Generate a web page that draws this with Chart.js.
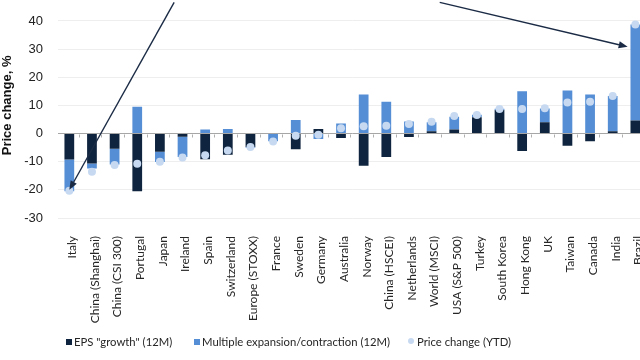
<!DOCTYPE html>
<html>
<head>
<meta charset="utf-8">
<script src="https://cdn.jsdelivr.net/npm/chart.js@4/dist/chart.umd.min.js"></script>
<style>
  html, body { margin: 0; padding: 0; background: #fff; overflow: hidden; width: 640px; height: 360px; }
  #wrap { position: absolute; left: 0; top: -30px; width: 660px; height: 390px; }
  .legend { position: absolute; top: 335px; font: 11.3px Lato, sans-serif; color: #262626; white-space: nowrap; }
  .legend .sw { display: inline-block; width: 6px; height: 6px; margin-right: 2px; vertical-align: 1px; }
  .legend .dot { display: inline-block; width: 6px; height: 6px; border-radius: 50%; margin-right: 3px; vertical-align: 2px; }
</style>
</head>
<body>
<div id="wrap"><canvas id="chart" width="660" height="390"></canvas></div>
<div class="legend" style="left:66px"><span class="sw" style="background:#0F243E"></span>EPS "growth" (12M)</div>
<div class="legend" style="left:194px"><span class="sw" style="background:#558ED5"></span>Multiple expansion/contraction (12M)</div>
<div class="legend" style="left:408px"><span class="dot" style="background:#C6D9F1"></span>Price change (YTD)</div>
<script>
'use strict';

/* ── Data ── */
const categories = ['Italy', 'China (Shanghai)', 'China (CSI 300)', 'Portugal', 'Japan', 'Ireland', 'Spain',
  'Switzerland', 'Europe (STOXX)', 'France', 'Sweden', 'Germany', 'Australia', 'Norway', 'China (HSCEI)',
  'Netherlands', 'World (MSCI)', 'USA (S&P 500)', 'Turkey', 'South Korea', 'Hong Kong', 'UK', 'Taiwan',
  'Canada', 'India', 'Brazil'];
const epsGrowth = [-9.2, -10.6, -5.4, -20.5, -6.5, -1.1, -9.1, -7.5, -4.8, 0, -5.6, 1.6, -1.6, -11.4, -8.3,
  -1.2, 0.8, 1.4, 5.8, 8.4, -6.2, 4.0, -4.3, -2.7, 0.8, 4.6];
const multipleChange = [-11.3, -1.8, -5.6, 9.5, -3.6, -7.2, 1.4, 1.6, -0.2, -2.7, 4.8, -1.9, 3.6, 13.9, 11.3,
  4.3, 3.2, 4.6, 0.9, 0.4, 15.0, 4.9, 15.3, 13.9, 12.5, 34.1];
const priceChange = [-20.3, -13.6, -11.2, -10.7, -10.0, -8.5, -7.7, -6.0, -4.8, -2.8, -0.8, -0.4, 1.9, 2.6, 2.8,
  3.4, 4.2, 6.2, 6.6, 8.7, 8.7, 9.0, 11.0, 11.3, 13.3, 38.7];
const yTicks = [-30, -20, -10, 0, 10, 20, 30, 40, 50];

// arrows pointing at Italy and Brazil: [category index, value]
const arrows = [
  { from: [4.63, 46.6], to: [0, -20] },
  { from: [16.36, 46.6], to: [24.66, 30.8] },
];

const C_EPS = '#0F243E';
const C_MULT = '#558ED5';
const C_PRICE = '#C6D9F1';

/* ── Zero line tick marks ── */
const zeroTicks = {
  id: 'zeroTicks',
  beforeDatasetsDraw(chart) {
    const { ctx, chartArea, scales: { y } } = chart;
    const y0 = Math.round(y.getPixelForValue(0)) + 0.5;
    const step = (chartArea.right - chartArea.left) / categories.length;
    ctx.save();
    ctx.strokeStyle = '#b0b0b0';
    ctx.lineWidth = 1;
    ctx.beginPath();
    for (let i = 1; i < categories.length; i++) {
      const x = Math.round(chartArea.left + i * step - 2) + 0.5;
      ctx.moveTo(x, y0);
      ctx.lineTo(x, y0 + 3);
    }
    ctx.stroke();
    ctx.restore();
  },
};

/* ── Annotation arrows ── */
const arrowLines = {
  id: 'arrowLines',
  afterDatasetsDraw(chart) {
    const { ctx, scales: { x, y } } = chart;
    ctx.save();
    ctx.strokeStyle = '#1B2B45';
    ctx.fillStyle = '#1B2B45';
    ctx.lineWidth = 1.4;
    arrows.forEach(({ from, to }) => {
      const x1 = x.getPixelForValue(from[0]), y1 = y.getPixelForValue(from[1]);
      const x2 = x.getPixelForValue(to[0]), y2 = y.getPixelForValue(to[1]);
      const a = Math.atan2(y2 - y1, x2 - x1);
      const len = 9, half = 3.5;
      const bx = x2 - len * Math.cos(a), by = y2 - len * Math.sin(a);
      ctx.beginPath();
      ctx.moveTo(x1, y1);
      ctx.lineTo(bx, by);
      ctx.stroke();
      ctx.beginPath();
      ctx.moveTo(x2, y2);
      ctx.lineTo(bx + half * Math.sin(a), by - half * Math.cos(a));
      ctx.lineTo(bx - half * Math.sin(a), by + half * Math.cos(a));
      ctx.closePath();
      ctx.fill();
    });
    ctx.restore();
  },
};

new Chart(document.getElementById('chart'), {
  data: {
    labels: categories,
    datasets: [
      {
        type: 'line',
        label: 'Price change (YTD)',
        data: priceChange,
        showLine: false,
        pointRadius: 4,
        pointBackgroundColor: C_PRICE,
        pointBorderWidth: 0,
        stack: 'price',
        order: 0,
      },
      {
        type: 'bar',
        label: 'EPS "growth" (12M)',
        data: epsGrowth,
        backgroundColor: C_EPS,
        stack: 'decomp',
        order: 1,
        categoryPercentage: 1,
        barPercentage: 0.43,
      },
      {
        type: 'bar',
        label: 'Multiple expansion/contraction (12M)',
        data: multipleChange,
        backgroundColor: C_MULT,
        stack: 'decomp',
        order: 1,
        categoryPercentage: 1,
        barPercentage: 0.43,
      },
    ],
  },
  options: {
    responsive: false,
    animation: false,
    devicePixelRatio: 1,
    layout: { padding: { left: 0, right: 12.6, top: 13, bottom: 30 } },
    plugins: { legend: { display: false }, tooltip: { enabled: false } },
    scales: {
      x: {
        stacked: true,
        offset: true,
        grid: { display: false },
        border: { display: false },
        ticks: {
          autoSkip: false,
          maxRotation: 90,
          minRotation: 90,
          padding: 10,
          labelOffset: 3,
          color: '#262626',
          font: { family: 'Lato', size: 12 },
        },
        afterFit: (s) => { s.height = 112; },
      },
      y: {
        stacked: true,
        min: -30,
        max: 50,
        afterBuildTicks: (s) => { s.ticks = yTicks.map((v) => ({ value: v })); },
        afterFit: (s) => { s.width = 58; },
        grid: {
          drawTicks: false,
          color: (c) => (c.tick && c.tick.value === 0 ? '#a6a6a6' : '#eeeeee'),
        },
        border: { display: false },
        ticks: {
          padding: 15,
          color: '#222',
          font: { family: "'Liberation Sans Narrow', 'Liberation Sans', sans-serif", size: 13 },
        },
        title: {
          display: true,
          text: 'Price change, %',
          padding: 0,
          color: '#111',
          font: { family: "'Liberation Sans Narrow', 'Liberation Sans', sans-serif", size: 13, weight: 'bold' },
        },
      },
    },
  },
  plugins: [zeroTicks, arrowLines],
});
</script>
</body>
</html>
